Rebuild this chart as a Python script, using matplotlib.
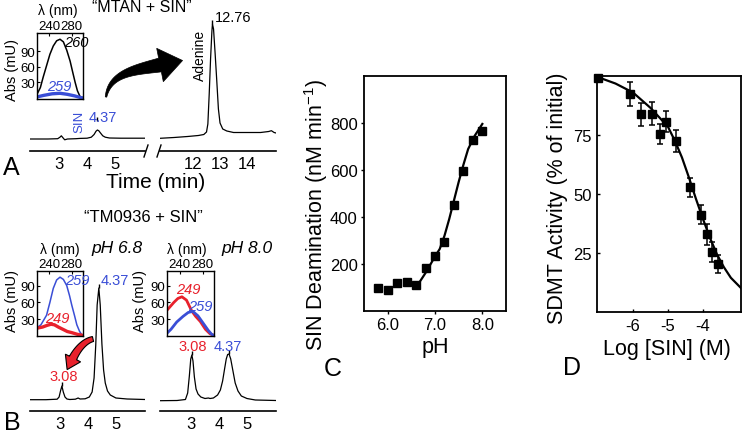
import numpy as np
import matplotlib
matplotlib.use("Agg")
import matplotlib.pyplot as plt
from matplotlib.patches import Polygon
from matplotlib.lines import Line2D

plt.rcParams['font.family'] = ['Liberation Sans', 'DejaVu Sans']
plt.rcParams['mathtext.fontset'] = 'custom'
plt.rcParams['mathtext.rm'] = 'Liberation Sans'
plt.rcParams['mathtext.it'] = 'Liberation Sans:italic'
plt.rcParams['mathtext.default'] = 'regular'
plt.rcParams['axes.unicode_minus'] = False

BLUE = '#3a4ed6'
RED = '#e8212c'

# ---------------- DATA ----------------
# Panel A chromatogram (MTAN + SIN), time (min) vs relative absorbance
a_left_time = [1.96, 2.6, 2.95, 3.03, 3.08, 3.13, 3.2, 3.3, 3.6, 3.75, 4.0, 4.15, 4.25,
               4.32, 4.37, 4.42, 4.48, 4.56, 4.65, 4.8, 5.2, 6.07]
a_left_sig = [0, 0, 0.3, 1.8, 3.2, 1.5, -0.8, 0, 0.3, 0.6, 0.8, 1.8, 4.5,
              7.8, 9, 8.2, 6, 3.2, 1.8, 1, 0.8, 0.8]
a_right_time = [10.78, 11.3, 11.8, 12.2, 12.4, 12.5, 12.55, 12.6, 12.65, 12.7, 12.72,
                12.76, 12.82, 12.88, 12.94, 13.0, 13.1, 13.25, 13.5, 14.0, 14.5, 14.8,
                14.9, 15.0, 15.07]
a_right_sig = [0.7, 1.5, 2.5, 3.5, 4.5, 7, 15, 45, 80, 108, 115,
               110, 85, 58, 30, 16, 10, 8, 6.5, 6.5, 6.5, 7.5,
               8.3, 6.5, 6]

# Panel B chromatograms (TM0936 + SIN)
b68_time = [1.93, 2.5, 2.9, 2.97, 3.02, 3.07, 3.12, 3.18, 3.25, 3.35, 3.55, 3.65, 3.72,
            3.9, 4.05, 4.15, 4.22, 4.28, 4.33, 4.39, 4.44, 4.5, 4.56, 4.62, 4.7, 4.8,
            5.0, 5.4, 6.04]
b68_sig = [0.3, 0.3, 0.8, 3, 9, 14, 8, 3, 1, 0.5, 0.8, 2, 1,
           1.2, 3, 8, 22, 55, 95, 112, 95, 56, 30, 17, 9, 5,
           2, 1, 0.5]
b80_time = [1.89, 2.5, 2.8, 2.88, 2.94, 2.99, 3.03, 3.07, 3.12, 3.18, 3.25, 3.35, 3.5,
            3.62, 3.68, 3.8, 3.95, 4.05, 4.13, 4.2, 4.26, 4.31, 4.36, 4.42, 4.5, 4.58,
            4.68, 4.8, 5.0, 5.3, 6.04]
b80_sig = [0.3, 0.5, 1.5, 8, 25, 42, 46, 40, 24, 12, 7, 4, 2.5,
           3, 2.5, 3, 6, 11, 20, 32, 42, 46.5, 47, 42, 30, 18,
           10, 5, 2.5, 1, 0.5]

# UV spectra insets: wavelength (nm) vs Abs (mU)
wl_a_black = [218, 224, 229, 235, 241, 247, 253, 259, 265, 271, 277, 282, 286, 290, 295, 300]
abs_a_black = [7, 20, 40, 62, 84, 100, 110, 113, 108, 92, 71, 48, 30, 14, 2, 0]
wl_a_blue = [218, 230, 245, 259, 272, 285, 295, 300]
abs_a_blue = [2, 5, 8, 9, 7, 4, 1, 0]

wl_b68_blue = [218, 225, 235, 241, 247, 253, 259, 265, 271, 276, 280, 285, 289, 294, 298, 300]
abs_b68_blue = [15, 20, 37, 60, 85, 100, 105, 101, 90, 72, 55, 36, 20, 8, 2, 1]
wl_b68_red = [218, 228, 236, 243, 249, 256, 264, 272, 280, 290, 300]
abs_b68_red = [14, 16, 19, 21, 20, 16, 12, 8, 6, 3, 1]

wl_b80_red = [218, 230, 237, 244, 252, 261, 268, 276, 285, 293, 300]
abs_b80_red = [46, 60, 67, 70, 64, 45, 35, 26, 12, 4, 1]
wl_b80_blue = [218, 225, 235, 246, 255, 263, 272, 281, 290, 296, 300]
abs_b80_blue = [5, 12, 25, 35, 42, 44, 36, 23, 10, 3, 1]

# Panel C: SIN deamination vs pH
ph = [5.8, 6.0, 6.2, 6.4, 6.6, 6.8, 7.0, 7.2, 7.4, 7.6, 7.8, 8.0]
rate = [98, 91, 119, 125, 111, 183, 235, 292, 452, 597, 728, 767]
fit_ph = [6.6, 6.68, 6.8, 6.9, 7.0, 7.1, 7.2, 7.3, 7.4, 7.5, 7.6, 7.7, 7.84, 8.0]
fit_rate = [112, 125, 162, 197, 232, 264, 320, 391, 470, 549, 622, 689, 746, 796]

# Panel D: SDMT activity vs log [SIN]
log_sin = [-7.0, -6.1, -5.77, -5.47, -5.23, -5.07, -4.77, -4.37, -4.06, -3.88, -3.75, -3.56]
activity = [99, 92.3, 83.8, 84.1, 75.3, 80.7, 72.5, 52.9, 41.3, 33.0, 25.4, 20.4]
activity_err = [0, 5.2, 4.8, 5.0, 4.3, 4.5, 4.8, 4.0, 4.1, 4.5, 4.3, 3.9]
fit_log = [-7.0, -6.5, -6.0, -5.5, -5.0, -4.8, -4.6, -4.4, -4.2, -4.0, -3.8, -3.6, -3.4, -3.2, -2.9]
fit_act = [99.5, 96.8, 93, 86.5, 78.5, 72.5, 65.5, 57, 48, 39.5, 31.5, 24.5, 19, 14.5, 10]

# ---------------- FIGURE ----------------
W, H = 742, 435
fig = plt.figure(figsize=(W / 100, H / 100), dpi=100)


def rect(x0, y0, x1, y1):
    return [x0 / W, 1 - y1 / H, (x1 - x0) / W, (y1 - y0) / H]


def ftext(x, y, s, **kw):
    kw.setdefault('ha', 'center')
    kw.setdefault('va', 'center')
    fig.text(x / W, 1 - y / H, s, **kw)


def chrom(box, xlim, ylim, ticks, t, s):
    ax = fig.add_axes(rect(*box))
    ax.plot(t, s, color='black', lw=0.9)
    ax.set_xlim(xlim)
    ax.set_ylim(ylim)
    for sp in ['top', 'left', 'right']:
        ax.spines[sp].set_visible(False)
    ax.spines['bottom'].set_linewidth(1.2)
    ax.set_yticks([])
    ax.set_xticks(ticks)
    ax.set_xticklabels([str(v) for v in ticks])
    ax.tick_params(axis='x', length=0, pad=3.5, labelsize=12)
    ax.patch.set_alpha(0)
    return ax


def apex(t, s, t0):
    t = np.asarray(t); s = np.asarray(s)
    m = np.abs(t - t0) < 0.2
    i = np.argmax(np.where(m, s, -np.inf))
    return t[i], s[i]


def peak_label(ax, t, s, t0, text, color, dx, dy, mark=True, **kw):
    tp, hp = apex(t, s, t0)
    if mark:
        ax.plot([tp], [hp + 2.5], marker='|', ms=3.5, mew=1.0, color='black', clip_on=False)
    ax.annotate(text, (tp, hp), xytext=(dx, dy), textcoords='offset pixels',
                ha='center', va='center', color=color, fontsize=kw.pop('fontsize', 10.5),
                annotation_clip=False, **kw)


def inset(box, ylim, curves):
    ax = fig.add_axes(rect(*box))
    for wl, ab, col, lw in curves:
        ax.plot(wl, ab, color=col, lw=lw)
    ax.set_xlim(218, 300)
    ax.set_ylim(ylim)
    ax.xaxis.tick_top()
    ax.set_xticks([240, 280])
    ax.set_yticks([30, 60, 90])
    ax.tick_params(direction='in', length=2.5, width=0.8, labelsize=9.5, pad=1)
    ax.tick_params(axis='x', pad=0.5)
    for sp in ax.spines.values():
        sp.set_linewidth(1.0)
    return ax


def bezier(p0, c1, c2, p3, n=50):
    t = np.linspace(0, 1, n)[:, None]
    return ((1 - t) ** 3) * p0 + 3 * ((1 - t) ** 2) * t * c1 + 3 * (1 - t) * t ** 2 * c2 + t ** 3 * p3


def tapered_arrow(p0, c1, c2, p3, w0, w1, head_w, head_len, fc, ec, lw):
    p0, c1, c2, p3 = [np.array(p, float) for p in (p0, c1, c2, p3)]
    pts = bezier(p0, c1, c2, p3)
    d = np.gradient(pts, axis=0)
    d /= np.linalg.norm(d, axis=1)[:, None]
    nrm = np.column_stack([-d[:, 1], d[:, 0]])
    w = np.linspace(w0, w1, len(pts))[:, None] / 2
    left = pts + nrm * w
    right = pts - nrm * w
    tip = p3 + d[-1] * head_len
    hl = p3 + nrm[-1] * head_w / 2
    hr = p3 - nrm[-1] * head_w / 2
    poly = np.vstack([left, hl, tip, hr, right[::-1]])
    xy = np.column_stack([poly[:, 0] / W, 1 - poly[:, 1] / H])
    fig.add_artist(Polygon(xy, closed=True, transform=fig.transFigure,
                           fc=fc, ec=ec, lw=lw, joinstyle='miter'))


# ---- Panel A ----
axA1 = chrom((30, 20, 145, 152), (1.96, 6.07), (-12, 120), [3, 4, 5], a_left_time, a_left_sig)
axA2 = chrom((160, 20, 276, 152), (10.78, 15.07), (-12, 120), [12, 13, 14], a_right_time, a_right_sig)
peak_label(axA1, a_left_time, a_left_sig, 4.37, '4.37', BLUE, 5, 13, mark=False)
peak_label(axA1, a_left_time, a_left_sig, 4.37, 'SIN', BLUE, -18, 9, mark=False, rotation=90,
           fontsize=9.5)
axA1.plot([4.37], [20.5], marker='|', ms=3.5, mew=1.0, color='black')
peak_label(axA2, a_right_time, a_right_sig, 12.76, '12.76', 'black', 21, 7)
peak_label(axA2, a_right_time, a_right_sig, 12.76, 'Adenine', 'black', -12, -30, mark=False,
           rotation=90, fontsize=10)

# break marks
for x in (146, 159):
    fig.add_artist(Line2D([(x - 2) / W, (x + 2) / W], [1 - 158 / H, 1 - 146 / H],
                          transform=fig.transFigure, color='black', lw=1.0))

insA = inset((37, 34, 83, 100), (-2, 125),
             [(wl_a_black, abs_a_black, 'black', 1.1), (wl_a_blue, abs_a_blue, BLUE, 2.4)])
ftext(76, 43, '260', fontsize=10.5, style='italic', color='black')
ftext(59, 87, '259', fontsize=10.5, style='italic', color=BLUE)
ftext(58, 11, 'λ (nm)', fontsize=10)
ftext(12, 70, 'Abs (mU)', fontsize=10.5, rotation=90)

ftext(142, 7, '“MTAN + SIN”', fontsize=11.5)
ftext(156, 183, 'Time (min)', fontsize=15)
ftext(11, 168, 'A', fontsize=18)

tapered_arrow((106, 98), (110, 74), (135, 71), (160, 66), 1.5, 14, 34, 23, 'black', 'black', 0.5)

# ---- Panel B ----
axB1 = chrom((30, 280, 145, 412), (1.93, 6.04), (-11, 121), [3, 4, 5], b68_time, b68_sig)
axB2 = chrom((160, 280, 276, 412), (1.89, 6.04), (-10, 122), [3, 4, 5], b80_time, b80_sig)
peak_label(axB1, b68_time, b68_sig, 3.07, '3.08', RED, 2, 10)
peak_label(axB1, b68_time, b68_sig, 4.39, '4.37', BLUE, 16, 8)
peak_label(axB2, b80_time, b80_sig, 3.03, '3.08', RED, 1, 9)
peak_label(axB2, b80_time, b80_sig, 4.36, '4.37', BLUE, -1, 8)

insB1 = inset((37, 272, 83, 337), (0, 116),
              [(wl_b68_blue, abs_b68_blue, BLUE, 1.1), (wl_b68_red, abs_b68_red, RED, 2.4)])
ftext(77, 281, '259', fontsize=10.5, style='italic', color=BLUE)
ftext(57, 319, '249', fontsize=10.5, style='italic', color=RED)
ftext(60, 250, 'λ (nm)', fontsize=10)
ftext(12, 301, 'Abs (mU)', fontsize=10.5, rotation=90)

insB2 = inset((167, 272, 214, 337), (0, 116),
              [(wl_b80_red, abs_b80_red, RED, 2.0), (wl_b80_blue, abs_b80_blue, BLUE, 2.0)])
ftext(188, 290, '249', fontsize=10.5, style='italic', color=RED)
ftext(200, 307, '259', fontsize=10.5, style='italic', color=BLUE)
ftext(187, 250, 'λ (nm)', fontsize=10)
ftext(140, 301, 'Abs (mU)', fontsize=10.5, rotation=90)

ftext(143, 218, '“TM0936 + SIN”', fontsize=12)
ftext(117, 249, 'pH 6.8', fontsize=12.5, style='italic')
ftext(247, 249, 'pH 8.0', fontsize=12.5, style='italic')
ftext(12, 423, 'B', fontsize=18)

tapered_arrow((93, 340), (84, 342), (77, 351), (73, 359), 5, 8, 17, 13, RED, 'black', 0.8)

# ---- Panel C ----
axC = fig.add_axes(rect(364, 77, 506, 312))
axC.plot(fit_ph, fit_rate, color='black', lw=1.6)
axC.plot(ph, rate, 's', color='black', ms=6, clip_on=False)
axC.set_xlim(5.5, 8.5)
axC.set_ylim(0, 1000)
axC.set_xticks([6, 7, 8])
axC.set_xticklabels(['6.0', '7.0', '8.0'])
axC.set_yticks([200, 400, 600, 800])
axC.tick_params(direction='out', length=2.5, width=1.0, labelsize=12, pad=2)
for sp in axC.spines.values():
    sp.set_linewidth(1.3)
ftext(316, 215, 'SIN Deamination (nM min$^{-1}$)', fontsize=15.5, rotation=90)
ftext(435, 348, 'pH', fontsize=15.5)
ftext(333, 369, 'C', fontsize=18)

# ---- Panel D ----
axD = fig.add_axes(rect(597, 77, 741, 313))
axD.plot(fit_log, fit_act, color='black', lw=1.6)
axD.errorbar(log_sin, activity, yerr=activity_err, fmt='s', color='black', ms=6,
             elinewidth=1.1, capsize=2.2, capthick=1.1, clip_on=False)
axD.set_xlim(-7.03, -2.91)
axD.set_ylim(0, 100)
axD.set_xticks([-6, -5, -4])
axD.set_xticklabels(['-6', '-5', '-4'])
axD.set_yticks([25, 50, 75])
axD.tick_params(direction='in', length=2.5, width=1.0, labelsize=12, pad=4)
for sp in axD.spines.values():
    sp.set_linewidth(1.3)
ftext(558, 198, 'SDMT Activity (% of initial)', fontsize=15.5, rotation=90)
ftext(667, 350, 'Log [SIN] (M)', fontsize=15.5)
ftext(572, 368, 'D', fontsize=18)

fig.savefig('out.png', dpi=100)
